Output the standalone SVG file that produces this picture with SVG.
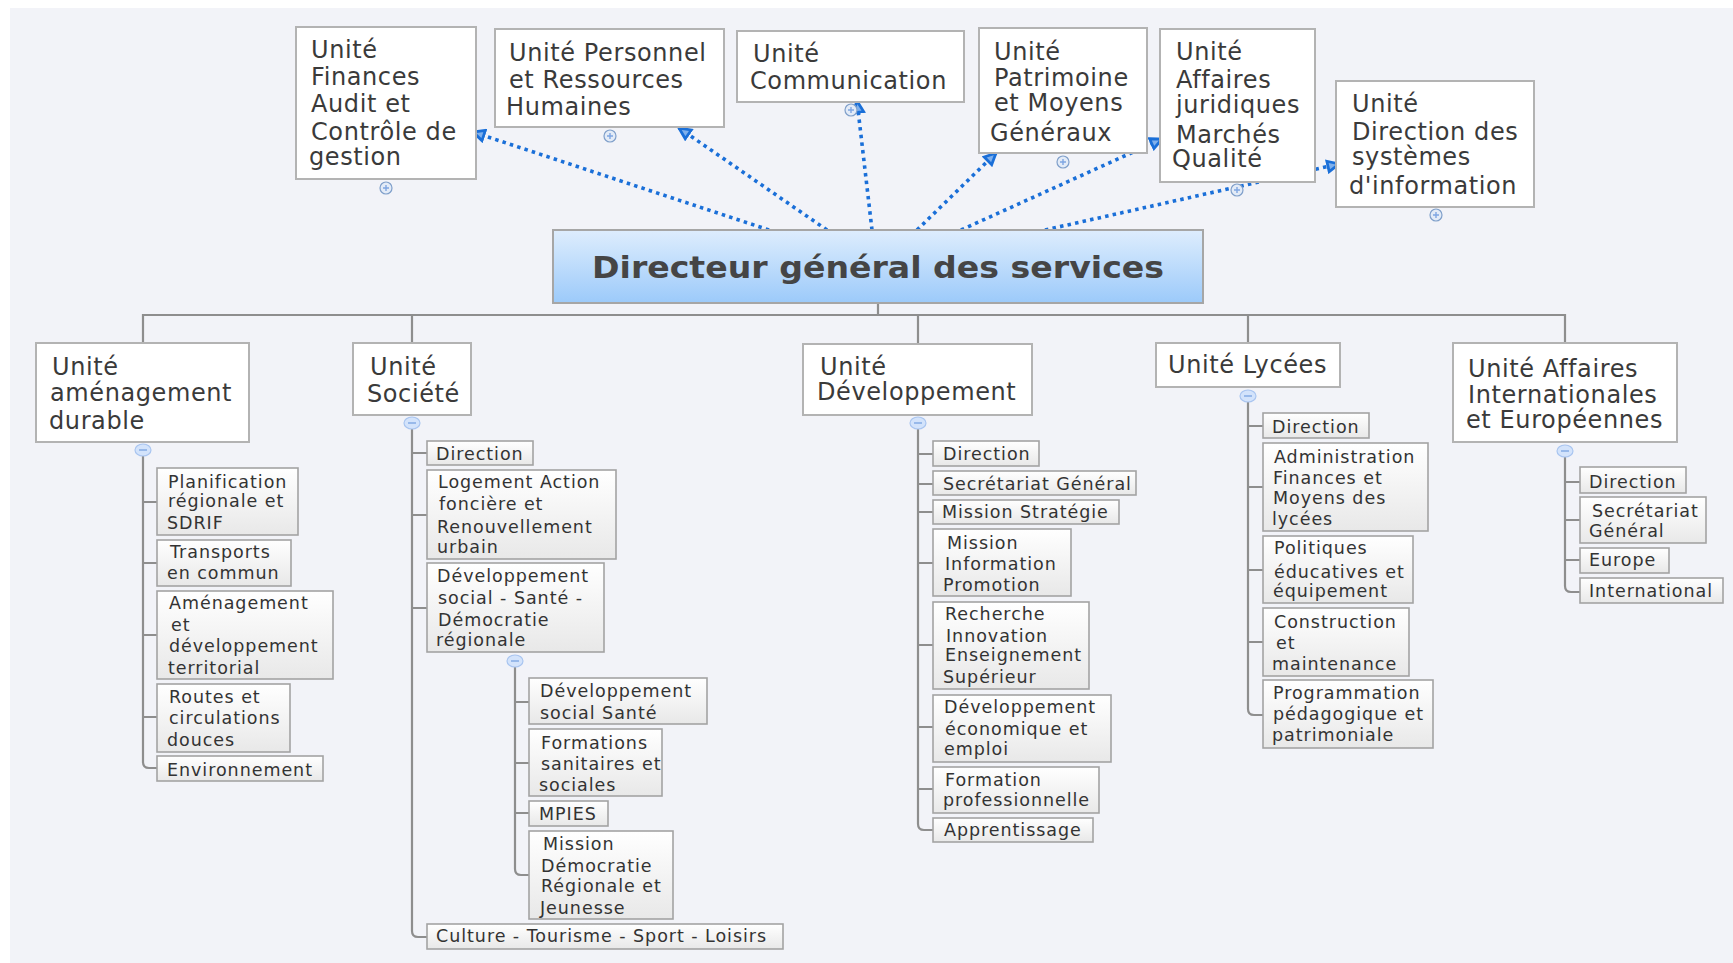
<svg xmlns="http://www.w3.org/2000/svg" width="1733" height="963" viewBox="0 0 1733 963">
<style>
.bg{fill:#f2f3f8}
.unit{fill:#ffffff;stroke:#b3b3b3;stroke-width:2}
.child{fill:url(#cg);stroke:#a3a3a3;stroke-width:1.6}
.ut{font-family:"DejaVu Sans",Verdana,sans-serif;font-size:24px;fill:#3a3a3a;letter-spacing:0.6px}
.ct{font-family:"DejaVu Sans",Verdana,sans-serif;font-size:17.5px;fill:#333333;letter-spacing:0.95px}
.tt{font-family:"DejaVu Sans",Verdana,sans-serif;font-size:31px;font-weight:bold;fill:#454545}
.tree{fill:none;stroke:#8e8e8e;stroke-width:2.2}
.rel{fill:none;stroke:#1a6fd8;stroke-width:3.6;stroke-dasharray:3.5 4.2;marker-end:url(#ah)}
.plus{fill:#e3ebf7;stroke:#7f9fca;stroke-width:1.2}
.minus{fill:#d3e3fb;stroke:#a9c5f0;stroke-width:1.2}
.ml{stroke:#7fa6e2;stroke-width:1.4}
</style>
<defs>
<linearGradient id="cg" x1="0" y1="0" x2="0" y2="1">
<stop offset="0" stop-color="#ffffff"/>
<stop offset="1" stop-color="#e8e8e8"/>
</linearGradient>
<linearGradient id="dg" x1="0" y1="0" x2="0" y2="1">
<stop offset="0" stop-color="#deedfd"/>
<stop offset="1" stop-color="#9ccafa"/>
</linearGradient>
<marker id="ah" viewBox="0 0 14 14" refX="12" refY="7" markerWidth="15" markerHeight="15" markerUnits="userSpaceOnUse" orient="auto">
<path d="M1.5,2 L12,7 L1.5,12 Z" fill="#7fb0ec" stroke="#1a6fd8" stroke-width="2.6" stroke-linejoin="miter"/>
</marker>
</defs>
<rect width="1733" height="963" fill="#ffffff"/>
<rect class="bg" x="10" y="8" width="1723" height="955"/>

<g id="connectors">
<path class="tree" d="M878,303 V315 M143,343 V315 H1565 V343 M412,315 V343 M918,315 V344 M1248,315 V343"/>
<path class="tree" d="M143,456 V762 Q143,768 149,768 H157 M143,502 H157 M143,563 H157 M143,635 H157 M143,717 H157"/>
<path class="tree" d="M412,429 V931 Q412,937 418,937 H427 M412,453 H427 M412,515 H427 M412,608 H427"/>
<path class="tree" d="M515,667 V869 Q515,875 521,875 H529 M515,702 H529 M515,763 H529 M515,813 H529"/>
<path class="tree" d="M918,429 V824 Q918,830 924,830 H933 M918,454 H933 M918,484 H933 M918,512 H933 M918,563 H933 M918,645 H933 M918,727 H933 M918,789 H933"/>
<path class="tree" d="M1248,402 V709 Q1248,715 1254,715 H1263 M1248,426 H1263 M1248,487 H1263 M1248,570 H1263 M1248,642 H1263"/>
<path class="tree" d="M1565,457 V586 Q1565,592 1571,592 H1580 M1565,482 H1580 M1565,520 H1580 M1565,560 H1580"/>
<line class="rel" x1="769" y1="230" x2="473" y2="132"/>
<line class="rel" x1="827" y1="230" x2="679" y2="128"/>
<line class="rel" x1="872" y1="230" x2="857" y2="101"/>
<line class="rel" x1="917" y1="230" x2="996" y2="153"/>
<line class="rel" x1="961" y1="230" x2="1162" y2="139"/>
<line class="rel" x1="1045" y1="230" x2="1339" y2="164"/>
</g>

<g id="dgs">
<rect x="553" y="230" width="650" height="73" fill="url(#dg)" stroke="#a6a6a6" stroke-width="2"/>
<text class="tt" x="878" y="278" text-anchor="middle" textLength="572" lengthAdjust="spacingAndGlyphs">Directeur général des services</text>
</g>

<g id="u-finances">
<rect class="unit" x="296" y="27" width="180" height="152"/>
<text class="ut"><tspan x="311" y="58">Unité</tspan><tspan x="311" y="85">Finances</tspan><tspan x="311" y="112">Audit et</tspan><tspan x="311" y="140">Contrôle de</tspan><tspan x="309" y="165">gestion</tspan></text>
<circle class="plus" cx="386" cy="188" r="6"/><path class="ml" d="M383,188 H389 M386,185 V191"/>
</g>
<g id="u-personnel">
<rect class="unit" x="495" y="29" width="229" height="98"/>
<text class="ut"><tspan x="509" y="61">Unité Personnel</tspan><tspan x="509" y="88">et Ressources</tspan><tspan x="506" y="115">Humaines</tspan></text>
<circle class="plus" cx="610" cy="136" r="6"/><path class="ml" d="M607,136 H613 M610,133 V139"/>
</g>
<g id="u-communication">
<rect class="unit" x="737" y="31" width="227" height="71"/>
<text class="ut"><tspan x="753" y="62">Unité</tspan><tspan x="750" y="89">Communication</tspan></text>
<circle class="plus" cx="851" cy="110" r="6"/><path class="ml" d="M848,110 H854 M851,107 V113"/>
</g>
<g id="u-patrimoine">
<rect class="unit" x="979" y="28" width="168" height="125"/>
<text class="ut"><tspan x="994" y="60">Unité</tspan><tspan x="994" y="86">Patrimoine</tspan><tspan x="994" y="111">et Moyens</tspan><tspan x="990" y="141">Généraux</tspan></text>
<circle class="plus" cx="1063" cy="162" r="6"/><path class="ml" d="M1060,162 H1066 M1063,159 V165"/>
</g>
<g id="u-juridiques">
<rect class="unit" x="1160" y="29" width="155" height="153"/>
<text class="ut"><tspan x="1176" y="60">Unité</tspan><tspan x="1176" y="88">Affaires</tspan><tspan x="1176" y="113">juridiques</tspan><tspan x="1176" y="143">Marchés</tspan><tspan x="1172" y="167">Qualité</tspan></text>
<circle class="plus" cx="1237" cy="190" r="6"/><path class="ml" d="M1234,190 H1240 M1237,187 V193"/>
</g>
<g id="u-dsi">
<rect class="unit" x="1336" y="81" width="198" height="126"/>
<text class="ut"><tspan x="1352" y="112">Unité</tspan><tspan x="1352" y="140">Direction des</tspan><tspan x="1352" y="165">systèmes</tspan><tspan x="1349" y="194">d'information</tspan></text>
<circle class="plus" cx="1436" cy="215" r="6"/><path class="ml" d="M1433,215 H1439 M1436,212 V218"/>
</g>

<g id="u-amenagement">
<rect class="unit" x="36" y="343" width="213" height="99"/>
<text class="ut"><tspan x="52" y="375">Unité</tspan><tspan x="50" y="401">aménagement</tspan><tspan x="49" y="429">durable</tspan></text>
<ellipse class="minus" cx="143" cy="450" rx="8" ry="6"/><path class="ml" d="M139,450 H147"/>
</g>
<g id="c-planification"><rect class="child" x="157" y="468" width="141" height="67"/><text class="ct"><tspan x="168" y="488">Planification</tspan><tspan x="168" y="507">régionale et</tspan><tspan x="167" y="529">SDRIF</tspan></text></g>
<g id="c-transports"><rect class="child" x="157" y="540" width="134" height="46"/><text class="ct"><tspan x="170" y="558">Transports</tspan><tspan x="167" y="579">en commun</tspan></text></g>
<g id="c-amenagement-dev"><rect class="child" x="157" y="591" width="176" height="88"/><text class="ct"><tspan x="169" y="609">Aménagement</tspan><tspan x="171" y="631">et</tspan><tspan x="169" y="652">développement</tspan><tspan x="168" y="674">territorial</tspan></text></g>
<g id="c-routes"><rect class="child" x="157" y="684" width="133" height="68"/><text class="ct"><tspan x="169" y="703">Routes et</tspan><tspan x="169" y="724">circulations</tspan><tspan x="167" y="746">douces</tspan></text></g>
<g id="c-environnement"><rect class="child" x="157" y="756" width="166" height="25"/><text class="ct" x="167" y="776">Environnement</text></g>

<g id="u-societe">
<rect class="unit" x="353" y="343" width="118" height="72"/>
<text class="ut"><tspan x="370" y="375">Unité</tspan><tspan x="367" y="402">Société</tspan></text>
<ellipse class="minus" cx="412" cy="423" rx="8" ry="6"/><path class="ml" d="M408,423 H416"/>
</g>
<g id="c-soc-direction"><rect class="child" x="427" y="441" width="106" height="24"/><text class="ct" x="436" y="460">Direction</text></g>
<g id="c-logement"><rect class="child" x="427" y="470" width="189" height="89"/><text class="ct"><tspan x="438" y="488">Logement Action</tspan><tspan x="439" y="510">foncière et</tspan><tspan x="437" y="533">Renouvellement</tspan><tspan x="437" y="553">urbain</tspan></text></g>
<g id="c-dev-social">
<rect class="child" x="427" y="563" width="177" height="89"/><text class="ct"><tspan x="437" y="582">Développement</tspan><tspan x="438" y="604">social - Santé -</tspan><tspan x="438" y="626">Démocratie</tspan><tspan x="436" y="646">régionale</tspan></text>
<ellipse class="minus" cx="515" cy="661" rx="8" ry="6"/><path class="ml" d="M511,661 H519"/>
</g>
<g id="c-dev-social-sante"><rect class="child" x="529" y="678" width="178" height="46"/><text class="ct"><tspan x="540" y="697">Développement</tspan><tspan x="540" y="719">social Santé</tspan></text></g>
<g id="c-formations"><rect class="child" x="529" y="729" width="133" height="67"/><text class="ct"><tspan x="541" y="749">Formations</tspan><tspan x="541" y="770">sanitaires et</tspan><tspan x="539" y="791">sociales</tspan></text></g>
<g id="c-mpies"><rect class="child" x="529" y="801" width="79" height="25"/><text class="ct" x="539" y="820">MPIES</text></g>
<g id="c-mission-democratie"><rect class="child" x="529" y="831" width="144" height="88"/><text class="ct"><tspan x="543" y="850">Mission</tspan><tspan x="541" y="872">Démocratie</tspan><tspan x="541" y="892">Régionale et</tspan><tspan x="540" y="914">Jeunesse</tspan></text></g>
<g id="c-culture"><rect class="child" x="427" y="924" width="356" height="25"/><text class="ct" x="436" y="942">Culture - Tourisme - Sport - Loisirs</text></g>

<g id="u-developpement">
<rect class="unit" x="803" y="344" width="229" height="71"/>
<text class="ut"><tspan x="820" y="375">Unité</tspan><tspan x="817" y="400">Développement</tspan></text>
<ellipse class="minus" cx="918" cy="423" rx="8" ry="6"/><path class="ml" d="M914,423 H922"/>
</g>
<g id="c-dev-direction"><rect class="child" x="933" y="441" width="106" height="25"/><text class="ct" x="943" y="460">Direction</text></g>
<g id="c-dev-secretariat"><rect class="child" x="933" y="471" width="203" height="24"/><text class="ct" x="943" y="490">Secrétariat Général</text></g>
<g id="c-mission-strategie"><rect class="child" x="933" y="500" width="186" height="24"/><text class="ct" x="942" y="518">Mission Stratégie</text></g>
<g id="c-mission-info"><rect class="child" x="933" y="529" width="138" height="67"/><text class="ct"><tspan x="947" y="549">Mission</tspan><tspan x="945" y="570">Information</tspan><tspan x="943" y="591">Promotion</tspan></text></g>
<g id="c-recherche"><rect class="child" x="933" y="602" width="156" height="87"/><text class="ct"><tspan x="945" y="620">Recherche</tspan><tspan x="946" y="642">Innovation</tspan><tspan x="945" y="661">Enseignement</tspan><tspan x="943" y="683">Supérieur</tspan></text></g>
<g id="c-dev-eco"><rect class="child" x="933" y="695" width="178" height="67"/><text class="ct"><tspan x="944" y="713">Développement</tspan><tspan x="945" y="735">économique et</tspan><tspan x="944" y="755">emploi</tspan></text></g>
<g id="c-formation-pro"><rect class="child" x="933" y="767" width="166" height="46"/><text class="ct"><tspan x="945" y="786">Formation</tspan><tspan x="943" y="806">professionnelle</tspan></text></g>
<g id="c-apprentissage"><rect class="child" x="933" y="818" width="160" height="24"/><text class="ct" x="944" y="836">Apprentissage</text></g>

<g id="u-lycees">
<rect class="unit" x="1156" y="343" width="184" height="44"/>
<text class="ut" x="1168" y="373">Unité Lycées</text>
<ellipse class="minus" cx="1248" cy="396" rx="8" ry="6"/><path class="ml" d="M1244,396 H1252"/>
</g>
<g id="c-lyc-direction"><rect class="child" x="1263" y="413" width="106" height="25"/><text class="ct" x="1272" y="433">Direction</text></g>
<g id="c-administration"><rect class="child" x="1263" y="443" width="165" height="88"/><text class="ct"><tspan x="1274" y="463">Administration</tspan><tspan x="1273" y="484">Finances et</tspan><tspan x="1273" y="504">Moyens des</tspan><tspan x="1272" y="525">lycées</tspan></text></g>
<g id="c-politiques"><rect class="child" x="1263" y="536" width="150" height="67"/><text class="ct"><tspan x="1274" y="554">Politiques</tspan><tspan x="1274" y="578">éducatives et</tspan><tspan x="1273" y="597">équipement</tspan></text></g>
<g id="c-construction"><rect class="child" x="1263" y="608" width="146" height="68"/><text class="ct"><tspan x="1274" y="628">Construction</tspan><tspan x="1276" y="649">et</tspan><tspan x="1272" y="670">maintenance</tspan></text></g>
<g id="c-programmation"><rect class="child" x="1263" y="680" width="170" height="68"/><text class="ct"><tspan x="1273" y="699">Programmation</tspan><tspan x="1273" y="720">pédagogique et</tspan><tspan x="1272" y="741">patrimoniale</tspan></text></g>

<g id="u-internationales">
<rect class="unit" x="1453" y="343" width="224" height="99"/>
<text class="ut"><tspan x="1468" y="377">Unité Affaires</tspan><tspan x="1468" y="403">Internationales</tspan><tspan x="1466" y="428">et Européennes</tspan></text>
<ellipse class="minus" cx="1565" cy="451" rx="8" ry="6"/><path class="ml" d="M1561,451 H1569"/>
</g>
<g id="c-int-direction"><rect class="child" x="1580" y="467" width="106" height="26"/><text class="ct" x="1589" y="488">Direction</text></g>
<g id="c-int-secretariat"><rect class="child" x="1580" y="497" width="126" height="46"/><text class="ct"><tspan x="1592" y="517">Secrétariat</tspan><tspan x="1589" y="537">Général</tspan></text></g>
<g id="c-europe"><rect class="child" x="1580" y="548" width="89" height="25"/><text class="ct" x="1589" y="566">Europe</text></g>
<g id="c-international"><rect class="child" x="1580" y="578" width="143" height="25"/><text class="ct" x="1589" y="597">International</text></g>
</svg>
